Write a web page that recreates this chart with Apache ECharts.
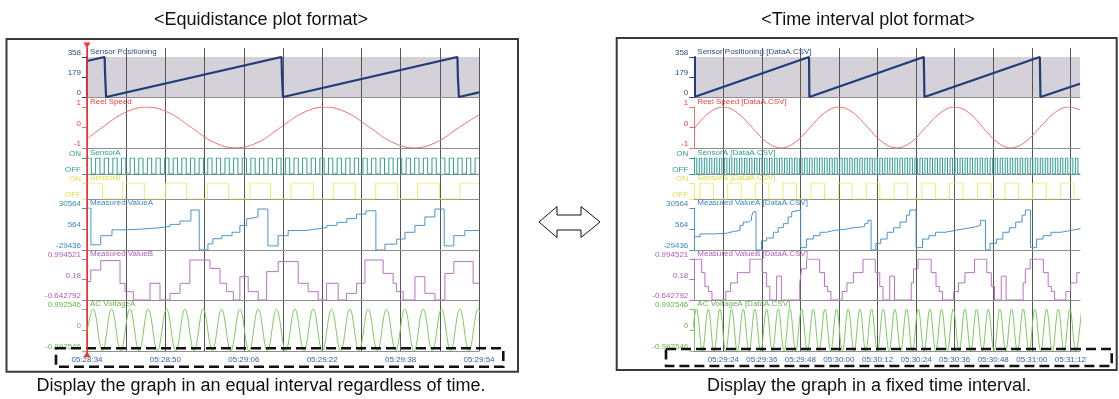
<!DOCTYPE html>
<html>
<head>
<meta charset="utf-8">
<script src="https://cdn.jsdelivr.net/npm/echarts@6/dist/echarts.min.js"></script>
<style>
html,body{margin:0;padding:0;background:#fff;}
#chart{width:1119px;height:399px;}
</style>
</head>
<body>
<div id="chart"></div>
<script>
// ================= DATA =================
const stripNames = ['Sensor Positioning','Reel Speed','SensorA','SensorB','Measured ValueA','Measured ValueB','AC VoltageA'];
const fileTag = ' [DataA.CSV]';
const yTicks = [[358,179,0],[1,0,-1],[1,0],[1,0],[30564,564,-29436],[0.994521,0.18,-0.642792],[0.992546,0,-0.992546]];
const yTickText = [['358','179','0'],['1','0','-1'],['ON','OFF'],['ON','OFF'],['30564','564','-29436'],['0.994521','0.18','-0.642792'],['0.992546','0','-0.992546']];

// left panel: x = sample index (equidistant), 0.2 s per sample
const leftTimeLabels = ['05:28:34','05:28:50','05:29:06','05:29:22','05:29:38','05:29:54'];
const leftLabelEvery = 80;
const leftGridEvery = 40;
const leftSamples = 400;

// right panel: x = seconds after 05:29:15
const rightTimeLabels = ['05:29:24','05:29:36','05:29:48','05:30:00','05:30:12','05:30:24','05:30:36','05:30:48','05:31:00','05:31:12'];
const rightTickSec = [9,21,33,45,57,69,81,93,105,117];
const rightSeconds = 120;

// ---- left series ----
const posL = [[0,322],[18,358],[18.5,190],[19.5,0],[198.5,358],[199,180],[200,0],[378,358],[378.5,170],[379.5,0],[400,42]];
const reelL = [[0,-0.55],[15.5,0],[38,0.71],[61,1],[84,0.71],[106.5,0],[129,-0.71],[152,-1],[175,-0.71],[197.5,0],[220,0.71],[243,1],[266,0.71],[288.5,0],[311,-0.71],[334,-1],[357,-0.71],[379.5,0],[400,0.62]];
const sensorA_L_t0 = 0, sensorA_L_dt = 4.4;
const sensorA_L = [
1,0,1,0,1,0,1,0,1,0,1,0,1,0,1,0,1,0,1,0,
1,0,1,0,1,0,1,0,1,0,1,0,1,0,1,0,1,0,1,0,
1,0,1,0,1,0,1,0,1,0,1,0,1,0,1,0,1,0,1,0,
1,0,1,0,1,0,1,0,1,0,1,0,1,0,1,0,1,0,1,0,
1,0,1,0,1,0,1,0,1,0,1];
const sensorB_L = [[0,1],[16,0],[36.4,1],[58.5,0],[80.3,1],[101.7,0],[122.8,1],[144.6,0],[166.3,1],[187.4,0],[208.2,1],[230.9,0],[251.3,1],[273.8,0],[294.6,1],[316.6,0],[337.4,1],[359.5,0],[380.6,1],[400,1]];
const mvaL = [[0,30564],[4,-22100],[14,-8950],[25.5,-610],[40.8,270],[54,2320],[74.5,4220],[84.7,7150],[94.9,11980],[106,27640],[114.5,-29436],[123.4,-20650],[128.5,-13340],[137.7,-8950],[148,-4120],[156,5690],[163,15490],[166,17830],[174.4,29100],[184.6,-23580],[195,-8950],[205.3,-1630],[222.4,564],[234.6,2760],[244.8,5690],[255,10050],[265,15490],[275,21780],[284.6,26600],[294.8,-29436],[304,-21100],[316,-13780],[324.4,-4120],[334.6,5690],[344.8,17830],[355,29100],[364.5,-23580],[374.3,-8950],[385.6,-1630],[400,-1630]];
const mvbL = [[0,0.09],[3.8,0.555],[14,0.93],[33.7,0.023],[38.8,-0.31],[47.3,-0.643],[64.3,0.023],[74.5,-0.643],[84.7,-0.377],[94.9,0.023],[105,0.955],[125.5,0.62],[135.7,0.023],[142.5,-0.31],[149.3,-0.643],[156,0.289],[164.5,-0.31],[174.7,-0.643],[183.3,0.49],[195.1,0.89],[215.5,0.023],[225.7,-0.31],[235.9,-0.643],[244.5,0.023],[256.3,-0.643],[264.9,-0.377],[275.1,0.023],[283.6,0.955],[302.2,0.42],[312.4,0.023],[315.9,-0.31],[322.6,-0.643],[334.6,0.289],[344.8,-0.377],[355,-0.643],[365.2,0.42],[374.3,0.89],[394,0.023],[400,0.023]];
const acL_t0 = -2.95, acL_dt = 9.35;
const acL = [
-0.99,0.99,-0.99,0.99,-0.99,0.99,-0.99,0.99,-0.99,0.99,
-0.99,0.99,-0.99,0.99,-0.99,0.99,-0.99,0.99,-0.99,0.99,
-0.99,0.99,-0.99,0.99,-0.99,0.99,-0.99,0.99,-0.99,0.99,
-0.99,0.99,-0.99,0.99,-0.99,0.99,-0.99,0.99,-0.99,0.99,
-0.99,0.99,-0.99,0.99,-0.99];

// ---- right series ----
const posR = [[0,0],[35.7,358],[35.8,0],[71.4,358],[71.6,0],[107.5,358],[107.7,0],[120,118]];
const reelR = [[0,-0.05],[4.5,0.71],[9,1],[13.5,0.71],[18,0],[22.5,-0.71],[27,-1],[31.5,-0.71],[36,0],[40.5,0.71],[45,1],[49.5,0.71],[54,0],[58.5,-0.71],[63,-1],[67.5,-0.71],[72,0],[76.5,0.71],[81,1],[85.5,0.71],[89.8,0],[94.2,-0.71],[98.5,-1],[102.9,-0.71],[107.5,0],[112,0.71],[116.5,1],[120,0.85]];
const sensorA_R_t0 = 0, sensorA_R_dt = 0.78;
const sensorA_R = [
1,0,1,0,1,0,1,0,1,0,1,0,1,0,1,0,1,0,1,0,
1,0,1,0,1,0,1,0,1,0,1,0,1,0,1,0,1,0,1,0,
1,0,1,0,1,0,1,0,1,0,1,0,1,0,1,0,1,0,1,0,
1,0,1,0,1,0,1,0,1,0,1,0,1,0,1,0,1,0,1,0,
1,0,1,0,1,0,1,0,1,0,1,0,1,0,1,0,1,0,1,0,
1,0,1,0,1,0,1,0,1,0,1,0,1,0,1,0,1,0,1,0,
1,0,1,0,1,0,1,0,1,0,1,0,1,0,1,0,1,0,1,0,
1,0,1,0,1,0,1,0,1,0,1,0,1,0];
const sensorB_R = [[0,0],[1.8,1],[6,0],[10.4,1],[14.6,0],[19,1],[23.2,0],[27.6,1],[31.8,0],[36.3,1],[40.5,0],[44.9,1],[49.1,0],[53.5,1],[57.7,0],[62.2,1],[66.4,0],[70.8,1],[75,0],[79.4,1],[83.6,0],[88.1,1],[92.3,0],[96.7,1],[100.9,0],[105.3,1],[109.5,0],[113.9,1],[118.1,0],[120,0]];
const mvaR = [[0,-10400],[1.8,-6460],[5.9,-5580],[10.1,-3100],[12.1,-1630],[14.2,5690],[15.2,10520],[16.8,13000],[17.8,17830],[18.3,25150],[19.2,-29436],[20.9,-16270],[22.5,-12320],[24.6,-4120],[26.1,2320],[27.7,8170],[29.2,17830],[30.3,25150],[30.8,27640],[33.1,-26070],[34.9,-13780],[37,-8950],[39.1,-4120],[41.2,-1630],[43.2,-610],[45.3,860],[47.9,2320],[49.4,3200],[51.5,4220],[53,8170],[54,13000],[55,-29436],[56.5,-20000],[58,-13780],[60,-4120],[62,2320],[64,10520],[66,20320],[67,27640],[69,-26070],[71,-13780],[73,-8950],[75,-4120],[78,-1630],[81,860],[84,3200],[87,5690],[89,13000],[90.6,-29436],[92,-20000],[94,-13780],[96,-4120],[98,2320],[100,10520],[102,20320],[103,27640],[104.6,-26070],[106.5,-13780],[108.5,-8950],[111,-4120],[114,-1630],[117,860],[120,2320]];
const mvbR = [[0,0.99],[2.3,0.45],[3.3,-0.1],[4.4,-0.302],[5.5,-0.643],[9.8,-0.302],[11.3,0.04],[13.4,0.45],[17.3,0.99],[21.1,0.45],[22.5,-0.1],[23.5,-0.643],[25.6,0.31],[27.1,-0.643],[32.8,0.04],[33.4,0.6],[34.9,0.99],[39,0.45],[40.5,-0.1],[41.5,-0.302],[42.5,-0.643],[46,-0.302],[47.5,0.04],[49.5,0.45],[52.5,0.99],[56.3,0.45],[57.7,-0.1],[58.7,-0.643],[60.8,0.31],[62.3,-0.643],[67.5,0.04],[68.2,0.6],[69.6,0.99],[73.7,0.45],[75.2,-0.1],[76.2,-0.302],[77.2,-0.643],[80.7,-0.302],[82.2,0.04],[84.2,0.45],[87.2,0.99],[91,0.45],[92.4,-0.1],[93.4,-0.643],[95.5,0.31],[97,-0.643],[102.3,0.04],[103,0.6],[104.5,0.99],[108.6,0.45],[110.1,-0.1],[111.1,-0.302],[112.1,-0.643],[115.6,-0.302],[117.1,0.04],[119,0.45],[120,0.45]];
const acR_t0 = -1.115, acR_dt = 1.815;
const acR = [
-0.99,0.99,-0.99,0.99,-0.99,0.99,-0.99,0.99,-0.99,0.99,
-0.99,0.99,-0.99,0.99,-0.99,0.99,-0.99,0.99,-0.99,0.99,
-0.99,0.99,-0.99,0.99,-0.99,0.99,-0.99,0.99,-0.99,0.99,
-0.99,0.99,-0.99,0.99,-0.99,0.99,-0.99,0.99,-0.99,0.99,
-0.99,0.99,-0.99,0.99,-0.99,0.99,-0.99,0.99,-0.99,0.99,
-0.99,0.99,-0.99,0.99,-0.99,0.99,-0.99,0.99,-0.99,0.99,
-0.99,0.99,-0.99,0.99,-0.99,0.99,-0.99,0.99];

// ================= STYLE / LAYOUT =================
const W = 1119;
const FONT = '"Liberation Sans", Arial, sans-serif';
const lineColors  = ['#1f3d78','#f27070','#2f9d92','#ecec6c','#4b95cd','#ba72c4','#7cca62'];
const labelColors = ['#2c4c86','#f03a3a','#2f9d92','#e2dc48','#3f86c0','#b05cb8','#66b84a'];
const lineWidths  = [2.2,1,1,1,1,1,1];
const seriesKind  = ['line','smooth','step','step','step','step','smooth'];
const stripTop    = [48, 97, 148, 174, 199, 250, 300];
const stripBottom = [97, 148, 174, 199, 250, 300, 351];
const stripPad    = [9, 10, 10, 9, 9, 9, 9];
const posFill = '#d4d1d8';

function seqPts(values, t0, dt, xEnd) {
  const pts = values.map((v, i) => [t0 + i * dt, v]);
  if (xEnd !== undefined) pts.push([xEnd, values[values.length - 1]]);
  return pts;
}

const leftData = [posL, reelL, seqPts(sensorA_L, sensorA_L_t0, sensorA_L_dt, leftSamples), sensorB_L, mvaL, mvbL, seqPts(acL, acL_t0, acL_dt)];
const rightData = [posR, reelR, seqPts(sensorA_R, sensorA_R_t0, sensorA_R_dt, rightSeconds), sensorB_R, mvaR, mvbR, seqPts(acR, acR_t0, acR_dt)];

const panels = [
  {left: 87, right: 479, xMax: leftSamples, data: leftData, suffix: ''},
  {left: 694.3, right: 1080, xMax: rightSeconds, data: rightData, suffix: fileTag}
];

const grids = [], xAxes = [], yAxes = [], series = [];
panels.forEach((P, p) => {
  for (let k = 0; k < 7; k++) {
    const isBottom = k === 6;
    const oi = grids.length;
    grids.push({left: P.left, width: P.right - P.left, top: stripTop[k], height: stripBottom[k] - stripTop[k], outerBoundsMode: 'none', containLabel: false});
    const xo = {
      gridIndex: oi, type: 'value', min: 0, max: P.xMax, position: 'bottom', z: 1,
      axisLine: {show: true, onZero: false, lineStyle: {color: '#8e8e8e', width: 1}},
      splitLine: {show: true, lineStyle: {color: '#555', width: 1}},
      axisTick: {show: false},
      axisLabel: {show: isBottom, color: '#3a62a4', fontSize: 8, fontFamily: FONT, margin: 5}
    };
    if (p === 0) {
      xo.interval = leftGridEvery;
      xo.axisLabel.formatter = v => (v % leftLabelEvery === 0 ? leftTimeLabels[v / leftLabelEvery] : '');
    } else {
      xo.axisTick.customValues = rightTickSec;
      xo.axisLabel.customValues = rightTickSec;
      xo.axisLabel.formatter = v => rightTimeLabels[rightTickSec.indexOf(v)] || '';
    }
    xAxes.push(xo);
    yAxes.push({gridIndex: oi, type: 'value', min: 0, max: 1, show: false});

    const ii = grids.length;
    grids.push({
      left: P.left, width: P.right - P.left, top: stripTop[k] + stripPad[k], height: stripBottom[k] - stripTop[k] - stripPad[k],
      show: k === 0, backgroundColor: k === 0 ? posFill : 'transparent', borderWidth: 0,
      outerBoundsMode: 'none', containLabel: false
    });
    xAxes.push({gridIndex: ii, type: 'value', min: 0, max: P.xMax, show: false});
    const ticks = yTicks[k];
    const texts = yTickText[k];
    yAxes.push({
      gridIndex: ii, type: 'value', position: 'left',
      min: ticks[ticks.length - 1], max: ticks[0],
      axisLine: {show: true, onZero: false, lineStyle: {color: lineColors[k], width: k === 0 ? 2 : 1}},
      axisTick: {show: true, inside: false, length: 5, customValues: ticks, lineStyle: {color: lineColors[k]}},
      axisLabel: {
        show: true, customValues: ticks, color: labelColors[k], fontSize: 8, fontFamily: FONT,
        verticalAlign: 'bottom', margin: 6,
        formatter: v => { const i = ticks.findIndex(t => Math.abs(t - v) < 1e-9); return i >= 0 ? texts[i] : ''; }
      },
      splitLine: {show: false},
      name: stripNames[k] + P.suffix, nameLocation: 'end', nameGap: 1, nameMoveOverlap: false,
      nameTextStyle: {align: 'left', verticalAlign: 'bottom', color: labelColors[k], fontSize: 8, fontFamily: FONT, padding: [0, 0, 0, 3]}
    });
    const s = {
      type: 'line', xAxisIndex: ii, yAxisIndex: ii, data: P.data[k],
      showSymbol: false, symbol: 'none', animation: false, silent: true, z: 3,
      lineStyle: {color: lineColors[k], width: lineWidths[k]}
    };
    if (seriesKind[k] === 'step') s.step = 'end';
    if (seriesKind[k] === 'smooth') s.smooth = 0.4;
    series.push(s);
  }
});

const graphic = [
  {type: 'rect', z: 50, shape: {x: 6.5, y: 39, width: 511.5, height: 332.7}, style: {fill: 'none', stroke: '#3a3a3a', lineWidth: 2}},
  {type: 'rect', z: 50, shape: {x: 616.7, y: 38, width: 500, height: 332}, style: {fill: 'none', stroke: '#3a3a3a', lineWidth: 2}},
  {type: 'rect', z: 60, shape: {x: 56, y: 348.3, width: 447.3, height: 18.4}, style: {fill: 'none', stroke: '#111', lineWidth: 2.6, lineDash: [10, 5]}},
  {type: 'rect', z: 60, shape: {x: 666, y: 349, width: 445.7, height: 17}, style: {fill: 'none', stroke: '#111', lineWidth: 2.6, lineDash: [10, 5]}},
  {type: 'polygon', z: 50, shape: {points: [[539,222],[557,206.5],[557,215],[581,215],[581,206.5],[600,222],[581,237.5],[581,230],[557,230],[557,237.5]]}, style: {fill: '#fff', stroke: '#111', lineWidth: 1}},
  {type: 'line', z: 70, shape: {x1: 87, y1: 45, x2: 87, y2: 355}, style: {stroke: '#ff3030', lineWidth: 1.5}},
  {type: 'polygon', z: 70, shape: {points: [[83.5,42.5],[90.5,42.5],[87,48]]}, style: {fill: '#ff3030'}},
  {type: 'polygon', z: 70, shape: {points: [[83.5,357],[90.5,357],[87,351.5]]}, style: {fill: '#ff3030'}},
  {type: 'text', z: 50, x: 261, y: 20.5, style: {text: '<Equidistance plot format>', font: '18px ' + FONT, fill: '#111', align: 'center', verticalAlign: 'middle', textAlign: 'center', textVerticalAlign: 'middle'}},
  {type: 'text', z: 50, x: 868, y: 20.5, style: {text: '<Time interval plot format>', font: '18px ' + FONT, fill: '#111', align: 'center', verticalAlign: 'middle', textAlign: 'center', textVerticalAlign: 'middle'}},
  {type: 'text', z: 50, x: 261, y: 386, style: {text: 'Display the graph in an equal interval regardless of time.', font: '18px ' + FONT, fill: '#111', align: 'center', verticalAlign: 'middle', textAlign: 'center', textVerticalAlign: 'middle'}},
  {type: 'text', z: 50, x: 869, y: 386, style: {text: 'Display the graph in a fixed time interval.', font: '18px ' + FONT, fill: '#111', align: 'center', verticalAlign: 'middle', textAlign: 'center', textVerticalAlign: 'middle'}}
];

const chart = echarts.init(document.getElementById('chart'), null, {renderer: 'canvas'});
chart.setOption({
  animation: false,
  backgroundColor: '#fff',
  textStyle: {fontFamily: FONT},
  grid: grids, xAxis: xAxes, yAxis: yAxes, series: series, graphic: graphic
});
</script>
</body>
</html>
